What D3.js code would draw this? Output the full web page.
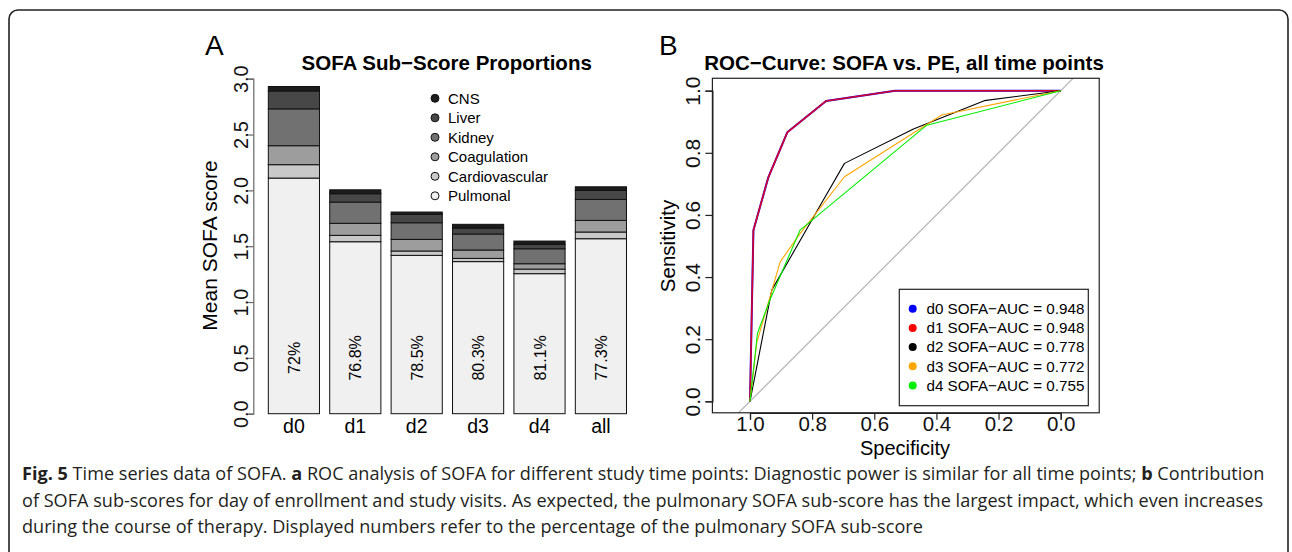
<!DOCTYPE html>
<html>
<head>
<meta charset="utf-8">
<script src="https://cdn.jsdelivr.net/npm/d3@7"></script>
<style>
  html, body { margin: 0; padding: 0; background: #fff; }
  svg { display: block; font-family: "Liberation Sans", Arial, Helvetica, sans-serif; }
</style>
</head>
<body>
<svg id="fig" width="1292" height="552"></svg>
<script>
// ---- data: panel A (stacked sub-scores, mean SOFA) ----
var days = ["d0", "d1", "d2", "d3", "d4", "all"];
var subscores = ["Pulmonal", "Cardiovascular", "Coagulation", "Kidney", "Liver", "CNS"];
var pulmonal       = [2.110, 1.540, 1.418, 1.362, 1.254, 1.567];
var cardiovascular = [0.120, 0.057, 0.039, 0.029, 0.041, 0.060];
var coagulation    = [0.170, 0.108, 0.104, 0.075, 0.048, 0.104];
var kidney         = [0.330, 0.190, 0.149, 0.143, 0.134, 0.188];
var liver          = [0.160, 0.075, 0.075, 0.053, 0.040, 0.081];
var cns            = [0.040, 0.035, 0.021, 0.034, 0.029, 0.032];
var pulmPct = ["72%", "76.8%", "78.5%", "80.3%", "81.1%", "77.3%"];
var yTicksA = [0, 0.5, 1, 1.5, 2, 2.5, 3];

// ---- data: panel B (ROC curves, specificity / sensitivity) ----
var rocNames = ["d0", "d1", "d2", "d3", "d4"];
var rocAuc = [0.948, 0.948, 0.778, 0.772, 0.755];
var d0Spec = [1, 0.989, 0.941, 0.880, 0.755, 0.533, 0];
var d0Sens = [0, 0.551, 0.721, 0.866, 0.967, 1, 1];
var d1Spec = [1, 0.989, 0.941, 0.880, 0.755, 0.533, 0];
var d1Sens = [0, 0.551, 0.721, 0.866, 0.967, 1, 1];
var d2Spec = [1, 0.930, 0.764, 0.696, 0.474, 0.246, 0];
var d2Sens = [0, 0.358, 0.648, 0.766, 0.877, 0.968, 1];
var d3Spec = [1, 0.978, 0.903, 0.839, 0.696, 0.383, 0];
var d3Sens = [0, 0.190, 0.449, 0.540, 0.723, 0.922, 1];
var d4Spec = [1, 0.976, 0.936, 0.839, 0.431, 0];
var d4Sens = [0, 0.219, 0.326, 0.551, 0.889, 1];
var ticksB = [0, 0.2, 0.4, 0.6, 0.8, 1];

var captionLines = [
  [["Fig. 5", true], [" Time series data of SOFA. ", false], ["a", true], [" ROC analysis of SOFA for different study time points: Diagnostic power is similar for all time points; ", false], ["b", true], [" Contribution", false]],
  [["of SOFA sub-scores for day of enrollment and study visits. As expected, the pulmonary SOFA sub-score has the largest impact, which even increases", false]],
  [["during the course of therapy. Displayed numbers refer to the percentage of the pulmonary SOFA sub-score", false]]
];

var svg = d3.select("#fig");

// frame round the figure
svg.append("rect")
  .attr("x", 9).attr("y", 10).attr("width", 1279).attr("height", 580)
  .attr("rx", 9).attr("fill", "none").attr("stroke", "#222").attr("stroke-width", 1.6);

// ================= Panel A =================
var series = [pulmonal, cardiovascular, coagulation, kidney, liver, cns];
var greys = ["#f0f0f0", "#c9c9c9", "#9d9d9d", "#717171", "#474747", "#1c1c1c"];

var xA = d3.scaleBand().domain(days).range([263.2, 631.6]).paddingInner(0.1667).paddingOuter(0.0833);
var yA = d3.scaleLinear().domain([0, 3]).range([413.7, 78.7]);

var rows = days.map(function (d, i) {
  var r = { day: d };
  subscores.forEach(function (s, j) { r[s] = series[j][i]; });
  return r;
});
var stacked = d3.stack().keys(subscores)(rows);

var gA = svg.append("g");
gA.selectAll("g.layer")
  .data(stacked)
  .join("g")
  .attr("class", "layer")
  .attr("fill", function (d, i) { return greys[i]; })
  .selectAll("rect")
  .data(function (d) { return d; })
  .join("rect")
  .attr("x", function (d) { return xA(d.data.day); })
  .attr("width", xA.bandwidth())
  .attr("y", function (d) { return yA(d[1]); })
  .attr("height", function (d) { return yA(d[0]) - yA(d[1]); })
  .attr("stroke", "#111")
  .attr("stroke-width", 1);

// percent labels
gA.selectAll("text.pct")
  .data(days)
  .join("text")
  .attr("class", "pct")
  .attr("transform", function (d) {
    return "translate(" + (xA(d) + xA.bandwidth() / 2 + 6) + "," + yA(0.5) + ") rotate(-90)";
  })
  .attr("text-anchor", "middle")
  .attr("font-size", 16)
  .text(function (d, i) { return pulmPct[i]; });

// y axis
var axA = d3.axisLeft(yA).tickValues(yTicksA).tickSize(5).tickFormat(d3.format(".1f"));
var gAx = gA.append("g").attr("transform", "translate(253.3,0)").call(axA);
gAx.attr("font-size", null).attr("font-family", null);
gAx.select(".domain").attr("stroke", "#666").attr("stroke-width", 1.2);
gAx.selectAll(".tick line").attr("stroke", "#666").attr("stroke-width", 1.2);
gAx.selectAll(".tick text")
  .attr("font-size", 20)
  .attr("fill", "#111")
  .attr("x", 0).attr("y", 0).attr("dy", null)
  .attr("text-anchor", "middle")
  .attr("transform", "translate(-5,0) rotate(-90)");

// x labels
gA.selectAll("text.xl")
  .data(days)
  .join("text")
  .attr("class", "xl")
  .attr("x", function (d) { return xA(d) + xA.bandwidth() / 2; })
  .attr("y", 432.5)
  .attr("text-anchor", "middle")
  .attr("font-size", 19.5)
  .text(function (d) { return d; });

gA.append("text")
  .attr("transform", "translate(217,245.5) rotate(-90)")
  .attr("text-anchor", "middle")
  .attr("font-size", 21)
  .text("Mean SOFA score");

gA.append("text")
  .attr("x", 446.7).attr("y", 69.5)
  .attr("text-anchor", "middle")
  .attr("font-size", 20.5).attr("font-weight", "bold")
  .text("SOFA Sub\u2212Score Proportions");

gA.append("text")
  .attr("x", 205).attr("y", 55)
  .attr("font-size", 28)
  .text("A");

// legend A (top entry = CNS)
var legA = gA.append("g");
var legOrder = subscores.slice().reverse();
var legGreys = greys.slice().reverse();
legOrder.forEach(function (s, i) {
  var y = 98.3 + i * 19.5;
  legA.append("circle").attr("cx", 435).attr("cy", y).attr("r", 4)
    .attr("fill", legGreys[i]).attr("stroke", "#111").attr("stroke-width", 1);
  legA.append("text").attr("x", 448).attr("y", y + 5.3).attr("font-size", 15).text(s);
});

// ================= Panel B =================
var xB = d3.scaleLinear().domain([1, 0]).range([750, 1060.7]);
var yB = d3.scaleLinear().domain([0, 1]).range([401.3, 90.7]);
var boxL = xB(1.121), boxR = xB(-0.124), boxT = yB(1.04), boxB = yB(-0.037);

var gB = svg.append("g");
gB.append("clipPath").attr("id", "clipB")
  .append("rect").attr("x", boxL).attr("y", boxT).attr("width", boxR - boxL).attr("height", boxB - boxT);

// chance diagonal
gB.append("line")
  .attr("clip-path", "url(#clipB)")
  .attr("x1", xB(1.2)).attr("y1", yB(-0.2))
  .attr("x2", xB(-0.2)).attr("y2", yB(1.2))
  .attr("stroke", "#b5b5b5").attr("stroke-width", 1.2);

var rocColors = ["#0000ff", "#ff0000", "#000000", "#ffa500", "#00ee00"];
var rocWidths = [2, 1.6, 1.1, 1.1, 1.1];
var rocData = [[d0Spec, d0Sens], [d1Spec, d1Sens], [d2Spec, d2Sens], [d3Spec, d3Sens], [d4Spec, d4Sens]];
var line = d3.line()
  .x(function (d) { return xB(d[0]); })
  .y(function (d) { return yB(d[1]); });

rocData.forEach(function (r, k) {
  var pts = r[0].map(function (s, i) { return [s, r[1][i]]; });
  gB.append("path")
    .attr("d", line(pts))
    .attr("fill", "none")
    .attr("stroke", rocColors[k])
    .attr("stroke-width", rocWidths[k])
    .attr("stroke-opacity", k === 1 ? 0.85 : 1)
    .attr("stroke-linejoin", "round");
});

gB.append("rect")
  .attr("x", boxL).attr("y", boxT).attr("width", boxR - boxL).attr("height", boxB - boxT)
  .attr("fill", "none").attr("stroke", "#222").attr("stroke-width", 1.2);

var axBy = d3.axisLeft(yB).tickValues(ticksB).tickSize(7).tickFormat(d3.format(".1f"));
var gBy = gB.append("g").attr("transform", "translate(" + boxL + ",0)").call(axBy);
gBy.attr("font-size", null).attr("font-family", null);
gBy.select(".domain").attr("stroke", "#222").attr("stroke-width", 1.2);
gBy.selectAll(".tick line").attr("stroke", "#222").attr("stroke-width", 1.2);
gBy.selectAll(".tick text")
  .attr("font-size", 21)
  .attr("fill", "#111")
  .attr("x", 0).attr("y", 0).attr("dy", null)
  .attr("text-anchor", "middle")
  .attr("transform", "translate(-12,0) rotate(-90)");

var axBx = d3.axisBottom(xB).tickValues(ticksB).tickSize(7).tickFormat(d3.format(".1f"));
var gBx = gB.append("g").attr("transform", "translate(0," + boxB + ")").call(axBx);
gBx.attr("font-size", null).attr("font-family", null);
gBx.select(".domain").attr("stroke", "#222").attr("stroke-width", 1.2);
gBx.selectAll(".tick line").attr("stroke", "#222").attr("stroke-width", 1.2);
gBx.selectAll(".tick text")
  .attr("font-size", 20.5)
  .attr("fill", "#111")
  .attr("y", 18.5).attr("dy", null);

gB.append("text")
  .attr("x", 905).attr("y", 454.5)
  .attr("text-anchor", "middle").attr("font-size", 20)
  .text("Specificity");
gB.append("text")
  .attr("transform", "translate(675,246) rotate(-90)")
  .attr("text-anchor", "middle").attr("font-size", 20.5)
  .text("Sensitivity");

gB.append("text")
  .attr("x", 904).attr("y", 70)
  .attr("text-anchor", "middle")
  .attr("font-size", 20.5).attr("font-weight", "bold")
  .text("ROC\u2212Curve: SOFA vs. PE, all time points");

gB.append("text")
  .attr("x", 659).attr("y", 55)
  .attr("font-size", 28)
  .text("B");

// legend B
var legB = gB.append("g");
legB.append("rect")
  .attr("x", 899.3).attr("y", 289.3).attr("width", 189).attr("height", 116.4)
  .attr("fill", "#fff").attr("stroke", "#222").attr("stroke-width", 1.2);
rocNames.forEach(function (n, i) {
  var y = 308.7 + i * 19.2;
  legB.append("circle").attr("cx", 912.7).attr("cy", y).attr("r", 4).attr("fill", rocColors[i]);
  legB.append("text").attr("x", 926.5).attr("y", y + 5.3).attr("font-size", 15.2)
    .text(n + " SOFA\u2212AUC = " + rocAuc[i].toFixed(3));
});

// ================= caption =================
var gC = svg.append("g").attr("font-family", "'Open Sans', 'Noto Sans', sans-serif").attr("fill", "#231f20");
var capY = [480, 506.5, 533];
var capNodes = captionLines.map(function (parts, li) {
  var t = gC.append("text").attr("x", 0).attr("y", 0).attr("font-size", 17.5);
  parts.forEach(function (p) {
    t.append("tspan").attr("font-weight", p[1] ? "bold" : "normal").text(p[0]);
  });
  return t;
});
// squeeze horizontally so the first line runs to the right edge, like the source
var w0 = capNodes[0].node().getComputedTextLength();
var sx = (1265 - 22) / w0;
capNodes.forEach(function (t, li) {
  t.attr("transform", "translate(22," + capY[li] + ") scale(" + sx + ",1)");
});
</script>
</body>
</html>
